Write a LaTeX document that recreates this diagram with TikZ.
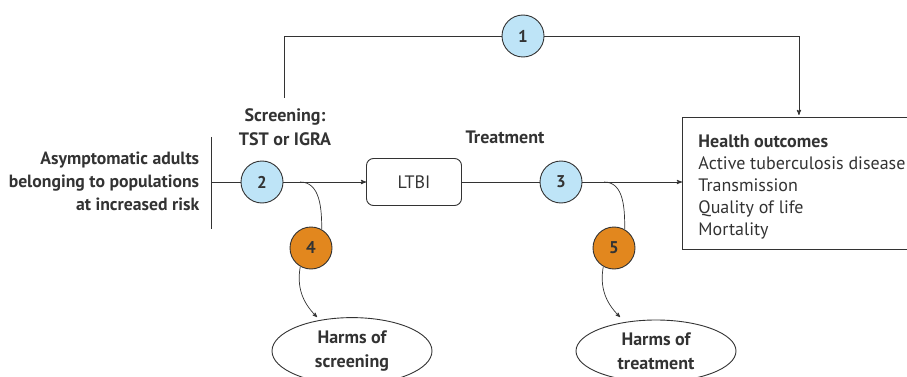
\documentclass[tikz,border=0pt]{standalone}
\usepackage{fontspec}
\setmainfont{PT Sans}
\usepackage{xcolor}
\usetikzlibrary{arrows,shapes}
\definecolor{kqblue}{HTML}{BEE4F7}
\definecolor{kqorange}{HTML}{E2871E}
\definecolor{lineg}{HTML}{333333}
\tikzset{
	kq/.style={circle,draw=lineg,fill=kqblue,minimum size=42pt,inner sep=0pt,font=\fontsize{17}{20}\selectfont\bfseries},
	harm/.style={kq,fill=kqorange},
	state/.style={draw=lineg,rounded corners=7pt,minimum width=95pt,minimum height=47pt},
	outcome/.style={ellipse,draw=lineg,minimum width=160pt,minimum height=62pt,align=center,font=\fontsize{18}{24}\selectfont\bfseries},
	lbl/.style={align=center,font=\fontsize{18}{24}\selectfont\bfseries}
}
\begin{document}
\begin{tikzpicture}[x=1pt,y=-1pt,line width=0.9pt,lineg,font=\fontsize{18}{22}\selectfont]
	\useasboundingbox (0,0) rectangle (907,377);
	% nodes
	\node[lbl,align=right,anchor=east,font=\fontsize{17.7}{23}\selectfont\bfseries] (pop) at (203,181) {Asymptomatic adults\\belonging to populations\\at increased risk};
	\node[lbl] (scr) at (285,127) {Screening:\\TST or IGRA};
	\node[lbl] (trt) at (505,137) {Treatment};
	\node[kq] (2) at (262,182) {2};
	\node[state] (L) at (414,182) {LTBI};
	\node[kq] (3) at (561,182) {3};
	\node[kq] (1) at (523,36) {1};
	\node[harm] (4) at (311,248) {4};
	\node[harm] (5) at (614,248) {5};
	\node[outcome] (H4) at (352,351) {Harms of\\screening};
	\node[outcome] (H5) at (656,351) {Harms of\\treatment};
	\node[draw=lineg,minimum width=233pt,minimum height=132pt,anchor=north west] (HO) at (682,117) {};
	\node[anchor=north west,align=left,inner sep=0pt] (HOt) at (698,134)
		{\textbf{Health outcomes}\\Active tuberculosis disease\\Transmission\\Quality of life\\Mortality};
	% free ends
	\coordinate (bt) at (211,137);
	\coordinate (bb) at (211,229);
	\coordinate (bm) at (211,182);
	\coordinate (top) at (284,98);
	\coordinate (s2) at (300,182);
	\coordinate (s3) at (604,182);
	\coordinate (e4) at (317,317);
	\coordinate (e5) at (620,317);
	%
	\path[->,>=stealth']
	% main line
	(bm) edge[-] (2)
	(2) edge (L)
	(L) edge[-] (3)
	(3) edge (3 -| HO.west)
	% harms
	(s2) edge[-,line width=0.7pt,out=0,in=90] (4.60)
	(4.240) edge[line width=0.7pt,out=260,in=135] (e4)
	(s3) edge[-,line width=0.7pt,out=0,in=90] (5.60)
	(5.240) edge[line width=0.7pt,out=260,in=135] (e5);
	\draw (bt) -- (bb);
	\draw (top) |- (1);
	\draw[->,>=stealth',shorten >=2pt] (1) -| (HO.north);
\end{tikzpicture}
\end{document}
